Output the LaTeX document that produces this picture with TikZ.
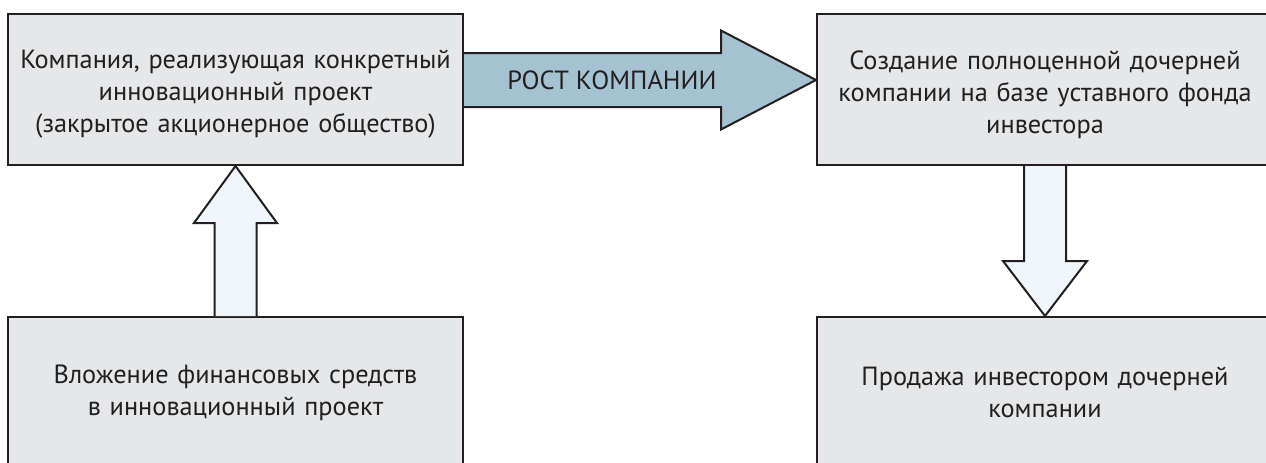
\documentclass[tikz,border=0pt]{standalone}
\usepackage{fontspec}
\setmainfont{PT Sans}
\usetikzlibrary{calc}
\definecolor{boxfill}{HTML}{E6E7E8}
\definecolor{bigarrow}{HTML}{A4C2D2}
\definecolor{smallarrow}{HTML}{EFF7FD}
\definecolor{ink}{HTML}{231F20}
\tikzset{
  box/.style={draw=ink, line width=2pt, fill=boxfill, minimum width=455pt, minimum height=151pt, inner sep=0pt},
  boxtext/.style={text width=450pt, align=center, text=ink, font=\fontsize{26.3}{32}\selectfont, inner sep=0pt},
  shape arrow/.style={draw=ink, line width=2pt, line join=miter},
}
\begin{document}
\begin{tikzpicture}[x=1pt,y=-1pt]
\useasboundingbox (0,0) rectangle (1266,463);
\clip (0,0) rectangle (1266,463);
\node[box] (tl) at (235.5,89.5) {};
\node[boxtext] (tlt) at ($(tl.center)+(0,5)$) {Компания, реализующая конкретный\\инновационный проект\\(закрытое акционерное общество)};
\node[box, minimum width=456pt] (tr) at (1045,89.5) {};
\node[boxtext] (trt) at ($(tr.center)+(0,5)$) {Создание полноценной дочерней\\компании на базе уставного фонда\\инвестора};
\node[box] (bl) at (235.5,392.5) {};
\node[boxtext] (blt) at (bl.center) {Вложение финансовых средств\\в инновационный проект};
\node[box, minimum width=456pt] (br) at (1045,392.5) {};
\node[boxtext] (brt) at (br.center) {Продажа инвестором дочерней\\компании};
% growth arrow
\draw[shape arrow, fill=bigarrow] let \p1=(tl.east), \p2=(tr.west) in
  (\x1,\y1+36.5pt) -- (\x2-95pt,\y1+36.5pt) -- (\x2-95pt,\y1+59pt) -- (\x2,\y1+9.5pt)
  -- (\x2-95pt,\y1-40pt) -- (\x2-95pt,\y1-17.5pt) -- (\x1,\y1-17.5pt);
\node[text=ink, font=\fontsize{26.3}{32}\selectfont, anchor=center] (grow) at ($(tl.east)!0.42!(tr.west)+(0,-9.5)$) {РОСТ КОМПАНИИ};
% up arrow
\draw[shape arrow, fill=smallarrow] let \p1=(tl.south), \p2=(bl.north) in
  (\x1-21pt,\y2) -- (\x1-21pt,\y1-57pt) -- (\x1-41.5pt,\y1-57pt) -- (\x1,\y1)
  -- (\x1+41.5pt,\y1-57pt) -- (\x1+21pt,\y1-57pt) -- (\x1+21pt,\y2);
% down arrow
\draw[shape arrow, fill=smallarrow] let \p1=(tr.south), \p2=(br.north) in
  (\x1-21pt,\y1) -- (\x1-21pt,\y1-95pt) -- (\x1-42pt,\y1-95pt) -- (\x1,\y2)
  -- (\x1+42pt,\y1-95pt) -- (\x1+21pt,\y1-95pt) -- (\x1+21pt,\y1);
\end{tikzpicture}
\end{document}
